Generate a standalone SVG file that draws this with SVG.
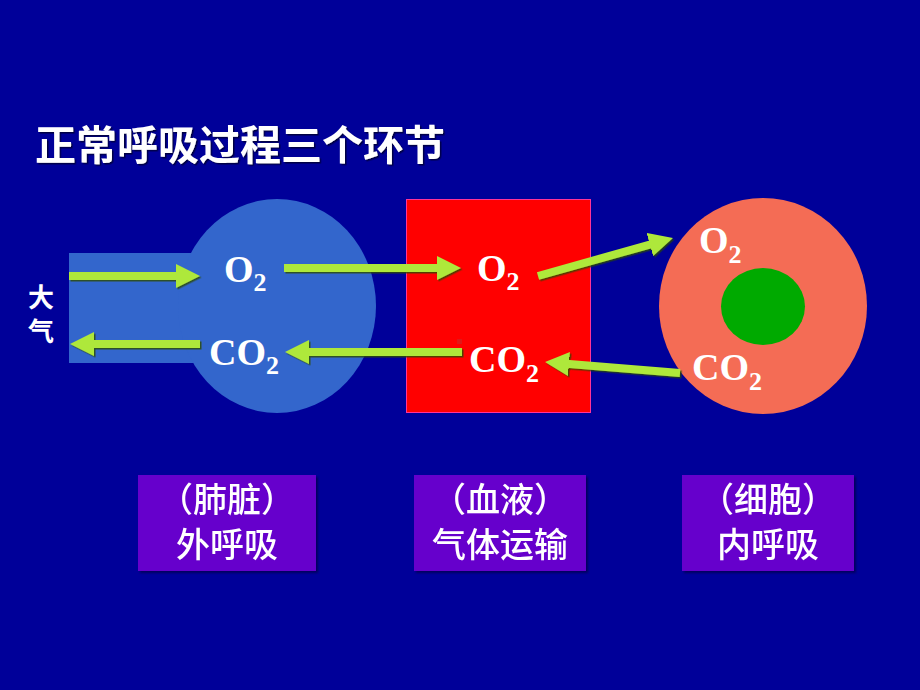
<svg xmlns="http://www.w3.org/2000/svg" width="920" height="690" viewBox="0 0 920 690">
  <defs>
    <style>
      .title { font-family: "Noto Sans CJK SC", "Noto Sans", sans-serif; font-weight: bold; font-size: 41px; fill: #FFFFFF; }
      .chem { font-family: "Liberation Serif", "Times New Roman", serif; font-weight: bold; font-size: 38px; fill: #FFFFFF; }
      .sub { font-size: 26px; }
      .side { font-family: "Noto Sans CJK SC", sans-serif; font-weight: bold; font-size: 26px; fill: #FFFFFF; }
      .lbl { font-family: "Noto Sans CJK SC", sans-serif; font-weight: 500; font-size: 34px; fill: #FFFFFF; text-anchor: middle; }
      .box { fill: #6600CC; }
      .arrow { stroke: #AEE83A; stroke-width: 8; fill: none; marker-end: url(#head); }
    </style>
    <marker id="head" markerUnits="userSpaceOnUse" markerWidth="24" markerHeight="24" refX="12" refY="12" orient="auto" viewBox="0 0 24 24">
      <path d="M0,0 L24,12 L0,24 z" fill="#AEE83A"/>
    </marker>
    <filter id="shadow" x="-10%" y="-30%" width="120%" height="160%">
      <feDropShadow dx="1.5" dy="1.5" stdDeviation="0.6" flood-color="#2A4A00" flood-opacity="0.8"/>
    </filter>
    <filter id="tshadow" x="-5%" y="-20%" width="110%" height="140%">
      <feDropShadow dx="1.5" dy="1.5" stdDeviation="0.5" flood-color="#000033" flood-opacity="0.8"/>
    </filter>
    <filter id="bshadow" x="-5%" y="-5%" width="110%" height="110%">
      <feDropShadow dx="2" dy="2" stdDeviation="0.8" flood-color="#000044" flood-opacity="0.7"/>
    </filter>
  </defs>

  <rect x="0" y="0" width="920" height="690" fill="#000099"/>

  <text class="title" x="35" y="160" filter="url(#tshadow)">正常呼吸过程三个环节</text>

  <g id="lung">
    <rect x="69" y="253" width="160" height="110" fill="#3366CC"/>
    <ellipse cx="277" cy="306" rx="99" ry="107" fill="#3366CC"/>
  </g>

  <g id="blood">
    <rect x="406.5" y="199.5" width="184" height="213" fill="#FF0000" stroke="#FF3399" stroke-width="1"/>
    <rect x="457" y="339" width="5" height="5" fill="#E01818"/>
  </g>

  <g id="cell">
    <ellipse cx="763" cy="306" rx="104" ry="108" fill="#F46C55"/>
    <ellipse cx="763" cy="306.5" rx="42" ry="38.5" fill="#00AA00"/>
  </g>

  <g id="atmosphere">
    <text class="side" x="41" y="307" text-anchor="middle">大</text>
    <text class="side" x="41" y="341" text-anchor="middle">气</text>
  </g>

  <g id="connectors" filter="url(#shadow)">
    <line class="arrow" x1="69" y1="276" x2="188" y2="276"/>
    <line class="arrow" x1="284" y1="268" x2="449" y2="268"/>
    <line class="arrow" x1="200" y1="344" x2="82" y2="344"/>
    <line class="arrow" x1="462" y1="352" x2="297" y2="352"/>
    <line class="arrow" x1="538" y1="276" x2="661.4" y2="241.3"/>
    <line class="arrow" x1="680" y1="373" x2="557" y2="363"/>
  </g>

  <g id="gas-labels">
    <text class="chem" x="224" y="282">O<tspan class="sub" dy="9">2</tspan></text>
    <text class="chem" x="209" y="365">CO<tspan class="sub" dy="9">2</tspan></text>
    <text class="chem" x="477" y="281">O<tspan class="sub" dy="9">2</tspan></text>
    <text class="chem" x="469" y="372">CO<tspan class="sub" dy="10">2</tspan></text>
    <text class="chem" x="699" y="253">O<tspan class="sub" dy="10">2</tspan></text>
    <text class="chem" x="692" y="380">CO<tspan class="sub" dy="10">2</tspan></text>
  </g>

  <g id="box-lung" filter="url(#bshadow)">
    <rect class="box" x="138" y="475" width="178" height="96"/>
    <text class="lbl" x="227" y="512">（肺脏）</text>
    <text class="lbl" x="227" y="557">外呼吸</text>
  </g>

  <g id="box-blood" filter="url(#bshadow)">
    <rect class="box" x="414" y="475" width="172" height="96"/>
    <text class="lbl" x="500" y="512">（血液）</text>
    <text class="lbl" x="500" y="557">气体运输</text>
  </g>

  <g id="box-cell" filter="url(#bshadow)">
    <rect class="box" x="682" y="475" width="172" height="96"/>
    <text class="lbl" x="768" y="512">（细胞）</text>
    <text class="lbl" x="768" y="557">内呼吸</text>
  </g>
</svg>
